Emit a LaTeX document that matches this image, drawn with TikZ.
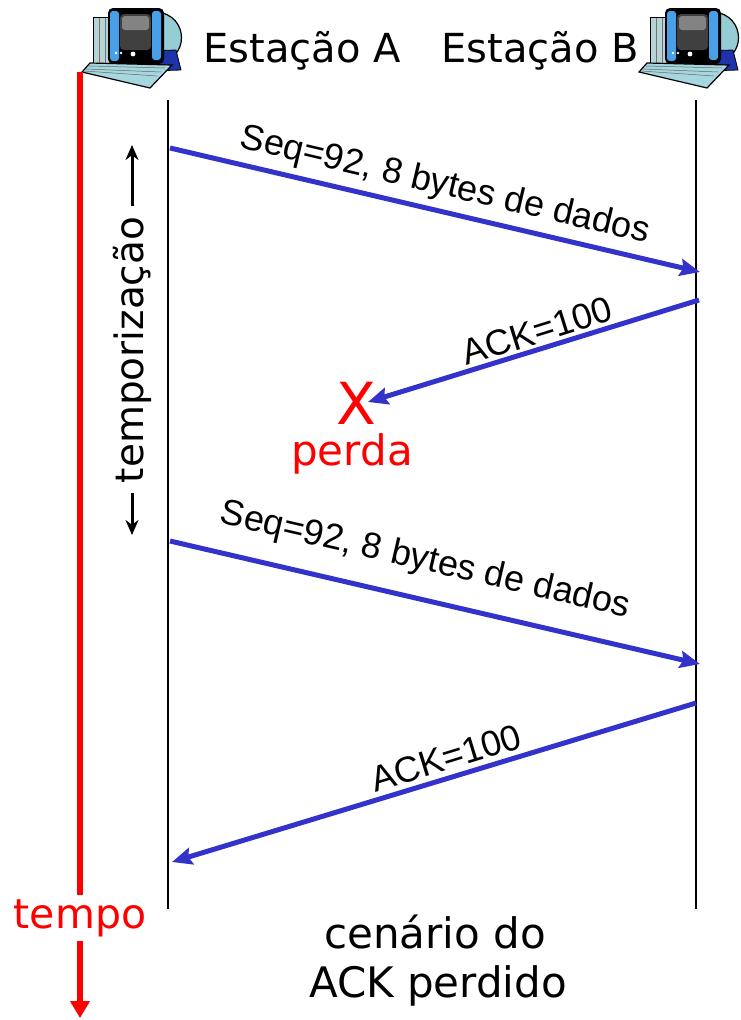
\documentclass[tikz,border=0pt]{standalone}
\usepackage{fontspec}
\setmainfont{Liberation Sans}
\newfontfamily\hand{DejaVu Sans}
\usetikzlibrary{arrows.meta}
\definecolor{msgblue}{RGB}{51,51,204}
\definecolor{lossred}{RGB}{255,0,0}
\definecolor{towercol}{RGB}{182,212,214}
\definecolor{humpcol}{RGB}{150,204,212}
\definecolor{basecol}{RGB}{30,50,170}
\definecolor{barcol}{RGB}{74,160,232}
\definecolor{screencol}{RGB}{64,64,64}
\definecolor{keycol}{RGB}{166,214,222}

\tikzset{
  msg/.style={draw=msgblue, line width=5pt, -{Stealth[length=20pt,width=17pt,inset=3pt]}},
  msglabel/.style={font=\fontsize{36}{40}\selectfont, inner sep=0pt},
  handtext/.style={font=\hand\fontsize{40}{46}\selectfont, inner sep=0pt},
  lifeline/.style={line width=2.2pt},
  timeline/.style={draw=lossred, line width=6pt},
  timerarrow/.style={line width=3pt, -{Stealth[length=15pt,width=13pt]}},
  pics/station/.style={code={
    % tower
    \filldraw[fill=towercol, draw=black, line width=0.8pt] (13,17) rectangle (31,68);
    \draw[black!55, line width=0.7pt] (19,18) -- (19,67) (25,18) -- (25,67);
    % back of the monitor
    \filldraw[fill=humpcol, draw=black, line width=1.2pt]
      (76,12) .. controls (110,14) and (110,62) .. (76,62) -- cycle;
    % base
    \filldraw[fill=basecol, draw=black, line width=0.8pt]
      (37,52) -- (96,50) -- (101,70) -- (37,72) -- cycle;
    % monitor frame and screen
    \fill[black, rounded corners=5pt] (28,8) rectangle (84,64);
    \fill[barcol, rounded corners=3pt] (30,11) rectangle (39,61);
    \fill[barcol, rounded corners=3pt] (72,11) rectangle (81,60);
    \fill[screencol, rounded corners=4pt] (40,14) rectangle (71,50);
    \fill[white!35!screencol, rounded corners=3pt] (42,16) rectangle (69,30);
    \fill[white] (36,53) circle (1.4) (41,53) circle (1.4) (53,54) circle (2.4);
    % keyboard
    \filldraw[fill=keycol, draw=black, line width=1.2pt]
      (10,63) -- (92,65) -- (70,88) -- (2,72) -- cycle;
    \draw[black!60, line width=0.5pt]
      (9,66) -- (85,68) (6,69) -- (81,72) (4,71) -- (77,76);
  }}
}

\begin{document}
\begin{tikzpicture}[x=1pt,y=-1pt]
\useasboundingbox (0,0) rectangle (741,1020);

% hosts
\pic at (80,0) {station};
\pic at (637,0) {station};
\node[handtext, anchor=base] (nameA) at (302,62) {Estação A};
\node[handtext, anchor=base] (nameB) at (540,62) {Estação B};

% lifelines
\coordinate (Atop) at (168,100);
\coordinate (Abot) at (168,909);
\coordinate (Btop) at (696,100);
\coordinate (Bbot) at (696,909);
\draw[lifeline] (Atop) -- (Abot);
\draw[lifeline] (Btop) -- (Bbot);

% time axis
\coordinate (timetop) at (80,72);
\coordinate (timeend) at (80,1018);
\node[handtext, font=\hand\fontsize{41}{46}\selectfont, text=lossred,
      anchor=base, inner ysep=4pt] (tempo) at (80,928) {tempo};
\draw[timeline] (timetop) -- (tempo.north);
\draw[timeline, -{Triangle[length=17pt,width=19pt]}] (tempo.south) -- (timeend);

% timer
\node[handtext, font=\hand\fontsize{39}{44}\selectfont, rotate=90] (timer) at (132,350) {temporização};
\coordinate (tupA) at (132,206);
\coordinate (tupB) at (132,145);
\coordinate (tdnA) at (132,493);
\coordinate (tdnB) at (132,535);
\draw[timerarrow] (tupA) -- (tupB);
\draw[timerarrow] (tdnA) -- (tdnB);

% segment 1
\coordinate (s1a) at (170,148);
\coordinate (s1b) at (700,272);
\draw[msg] (s1a) -- (s1b);
\node[msglabel, rotate=-13.2] (l1) at (445,186) {Seq=92, 8 bytes de dados};

% lost ACK
\coordinate (s2a) at (699,300);
\coordinate (s2b) at (368,402);
\draw[msg] (s2a) -- (s2b);
\node[msglabel, rotate=17.3] (l2) at (537,331) {ACK=100};
\node[handtext, font=\hand\fontsize{58}{60}\selectfont, text=lossred] (lossX) at (356,403) {X};
\node[handtext, font=\hand\fontsize{42}{46}\selectfont, text=lossred, anchor=base] (loss) at (352,465) {perda};

% retransmission
\coordinate (s3a) at (170,541);
\coordinate (s3b) at (700,664);
\draw[msg] (s3a) -- (s3b);
\node[msglabel, rotate=-13] (l3) at (425,561) {Seq=92, 8 bytes de dados};

% second ACK
\coordinate (s4a) at (696,703);
\coordinate (s4b) at (172,862);
\draw[msg] (s4a) -- (s4b);
\node[msglabel, rotate=17] (l4) at (446,758) {ACK=100};

% caption
\node[handtext, font=\hand\fontsize{42}{46}\selectfont, anchor=base] (cap1) at (435,948) {cenário do};
\node[handtext, font=\hand\fontsize{42}{46}\selectfont, anchor=base] (cap2) at (438,997) {ACK perdido};
\end{tikzpicture}
\end{document}
